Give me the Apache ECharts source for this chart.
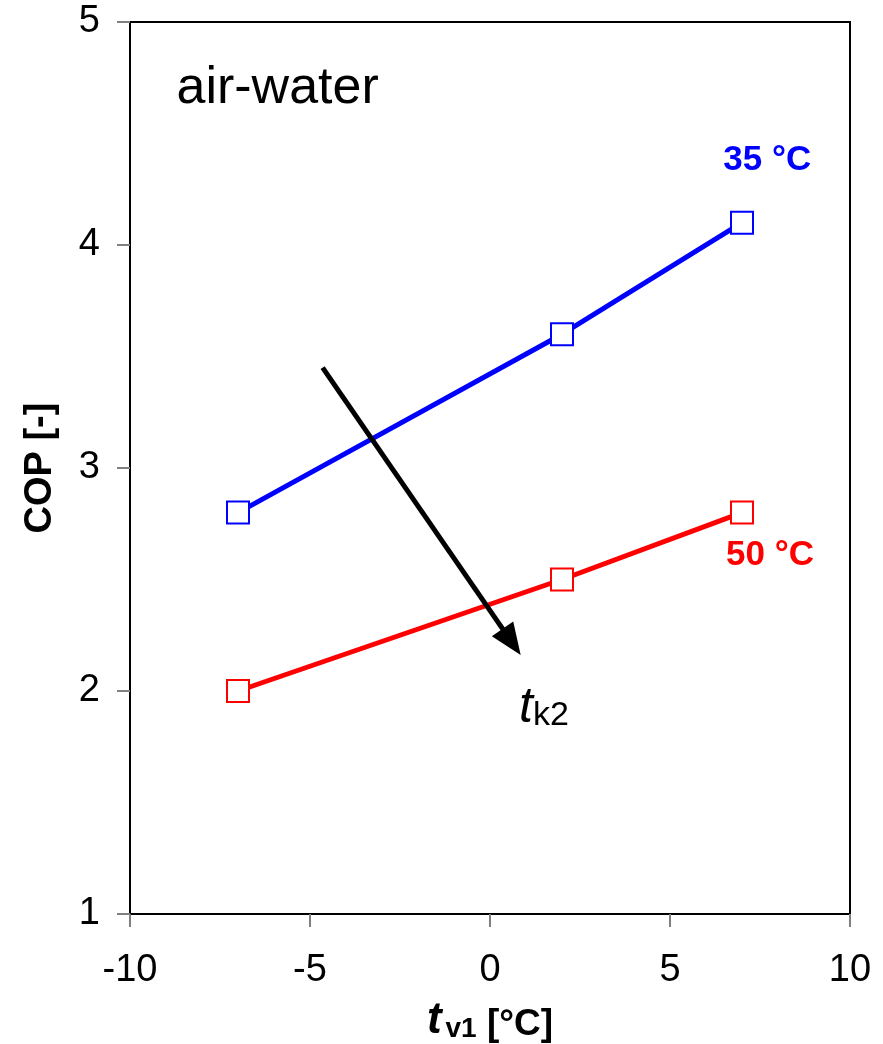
<!DOCTYPE html>
<html>
<head>
<meta charset="utf-8">
<script src="https://cdn.jsdelivr.net/npm/echarts@6/dist/echarts.min.js"></script>
<style>
html,body{margin:0;padding:0;background:#fff;}
#chart{width:883px;height:1044px;}
</style>
</head>
<body>
<div id="chart"></div>
<script>
// ---- data ----
var tv1 = [-7, 2, 7];
var cop35 = [2.8, 3.6, 4.1];
var cop50 = [2.0, 2.5, 2.8];
var seriesNames = ['35 °C', '50 °C'];
var xTicks = [-10, -5, 0, 5, 10];
var yTicks = [1, 2, 3, 4, 5];
var arrowStart = [-4.65, 3.45];
var arrowEnd = [0.6, 2.22];
var chartTitle = 'air-water';

var NARROW = '"Liberation Sans Narrow", "Arial Narrow", "Liberation Sans", Arial, sans-serif';
var REG = '"Liberation Sans", Arial, sans-serif';

function pairs(xs, ys) { return xs.map(function (x, i) { return [x, ys[i]]; }); }

var chart = echarts.init(document.getElementById('chart'), null, {renderer: 'canvas'});
var option = {
  backgroundColor: '#fff',
  animation: false,
  grid: {left: 130, right: 33, top: 22, bottom: 130, show: true, borderColor: '#000', borderWidth: 2, backgroundColor: 'transparent', containLabel: false, outerBoundsMode: 'none'},
  xAxis: {
    type: 'value', min: xTicks[0], max: xTicks[xTicks.length - 1], interval: 5,
    axisLine: {onZero: false, lineStyle: {color: '#000', width: 2}},
    axisTick: {show: true, length: 13, lineStyle: {color: '#808080', width: 2}},
    splitLine: {show: false},
    axisLabel: {fontFamily: NARROW, fontSize: 38, color: '#000', margin: 38},
    name: '{t|t}{s|v1}{b| [°C]}',
    nameLocation: 'middle', nameGap: 83,
    nameTextStyle: {
      rich: {
        t: {fontFamily: REG, fontSize: 44, fontWeight: 'bold', fontStyle: 'italic', color: '#000', lineHeight: 46, verticalAlign: 'bottom'},
        s: {fontFamily: NARROW, fontSize: 28, fontWeight: 'bold', color: '#000', lineHeight: 46, padding: [10, 0, 0, 4], verticalAlign: 'bottom'},
        b: {fontFamily: NARROW, fontSize: 37, fontWeight: 'bold', color: '#000', lineHeight: 46, verticalAlign: 'bottom'}
      }
    }
  },
  yAxis: {
    type: 'value', min: yTicks[0], max: yTicks[yTicks.length - 1], interval: 1,
    axisLine: {onZero: false, lineStyle: {color: '#000', width: 2}},
    axisTick: {show: true, length: 13, lineStyle: {color: '#808080', width: 2}},
    splitLine: {show: false},
    axisLabel: {fontFamily: NARROW, fontSize: 38, color: '#000', margin: 30},
    name: 'COP [-]',
    nameLocation: 'middle', nameGap: 70,
    nameTextStyle: {fontFamily: NARROW, fontSize: 38, fontWeight: 'bold', color: '#000'}
  },
  series: [
    {
      name: seriesNames[0], type: 'line', data: pairs(tv1, cop35),
      symbol: 'rect', symbolSize: 22,
      lineStyle: {color: '#0000ff', width: 5},
      itemStyle: {color: '#fff', borderColor: '#0000ff', borderWidth: 2},
      z: 3,
      markPoint: {
        symbol: 'rect', symbolSize: 1, itemStyle: {color: 'rgba(0,0,0,0)'},
        data: [{coord: [7.7, 4.38], value: seriesNames[0]}],
        label: {show: true, position: 'inside', formatter: '{c}', fontFamily: NARROW, fontSize: 35, fontWeight: 'bold', color: '#0000ff'}
      }
    },
    {
      name: seriesNames[1], type: 'line', data: pairs(tv1, cop50),
      symbol: 'rect', symbolSize: 22,
      lineStyle: {color: '#ff0000', width: 5},
      itemStyle: {color: '#fff', borderColor: '#ff0000', borderWidth: 2},
      z: 3,
      markPoint: {
        symbol: 'rect', symbolSize: 1, itemStyle: {color: 'rgba(0,0,0,0)'},
        data: [{coord: [7.78, 2.61], value: seriesNames[1]}],
        label: {show: true, position: 'inside', formatter: '{c}', fontFamily: NARROW, fontSize: 35, fontWeight: 'bold', color: '#ff0000'}
      }
    },
    {
      type: 'line', data: [], z: 4,
      markLine: {
        silent: true, animation: false,
        symbol: ['none', 'triangle'], symbolSize: [26, 32],
        lineStyle: {color: '#000', width: 5, type: 'solid'},
        itemStyle: {color: '#000'},
        label: {show: false},
        data: [[{coord: arrowStart}, {coord: arrowEnd}]]
      },
      markPoint: {
        symbol: 'rect', symbolSize: 1, itemStyle: {color: 'rgba(0,0,0,0)'},
        data: [
          {coord: [-5.9, 4.7], value: chartTitle, label: {formatter: '{c}', fontFamily: REG, fontSize: 52, color: '#000'}},
          {coord: [1.5, 1.93], value: 'tk2', label: {formatter: '{t|t}{s|k2}', rich: {
            t: {fontFamily: REG, fontSize: 50, fontStyle: 'italic', color: '#000', lineHeight: 52, verticalAlign: 'bottom'},
            s: {fontFamily: NARROW, fontSize: 34, color: '#000', lineHeight: 52, padding: [16, 0, 0, 0], verticalAlign: 'bottom'}
          }}}
        ],
        label: {show: true, position: 'inside'}
      }
    }
  ]
};
chart.setOption(option);
</script>
</body>
</html>
